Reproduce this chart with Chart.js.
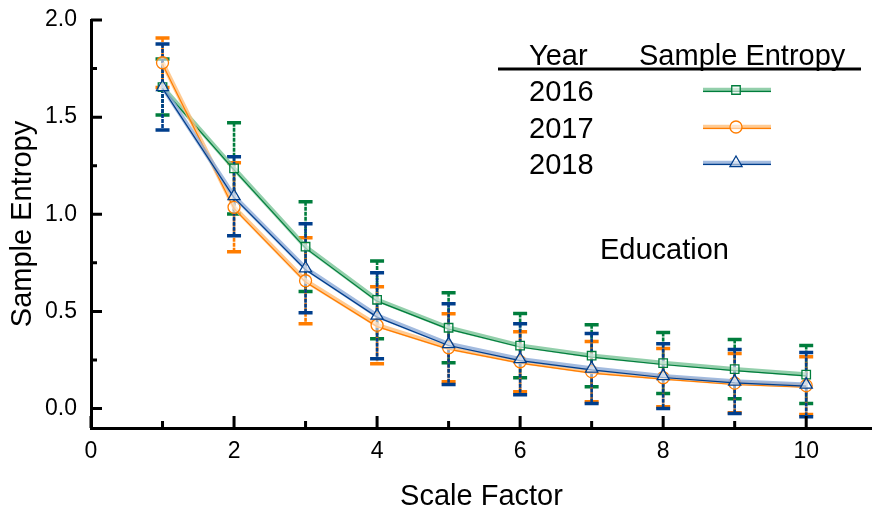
<!DOCTYPE html>
<html>
<head>
<meta charset="utf-8">
<script src="https://cdn.jsdelivr.net/npm/chart.js@4/dist/chart.umd.min.js"></script>
<style>
  html, body { margin: 0; padding: 0; background: #fff; overflow: hidden; }
  canvas { display: block; }
</style>
</head>
<body>
<canvas id="chart" width="872" height="514"></canvas>
<script>
// Multiscale sample entropy by year, with error bars (mean ± deviation)
const scaleFactor = [1, 2, 3, 4, 5, 6, 7, 8, 9, 10];
const years = ['2016', '2017', '2018'];

const entropy2016 = [1.655, 1.236, 0.833, 0.560, 0.416, 0.324, 0.272, 0.234, 0.203, 0.175];
const error2016   = [0.144, 0.235, 0.231, 0.200, 0.180, 0.165, 0.160, 0.157, 0.152, 0.149];
const entropy2017 = [1.780, 1.036, 0.658, 0.429, 0.313, 0.241, 0.190, 0.159, 0.131, 0.118];
const error2017   = [0.127, 0.229, 0.221, 0.198, 0.175, 0.155, 0.155, 0.150, 0.152, 0.149];
const entropy2018 = [1.655, 1.093, 0.722, 0.478, 0.332, 0.254, 0.206, 0.167, 0.139, 0.123];
const error2018   = [0.221, 0.203, 0.229, 0.221, 0.208, 0.183, 0.180, 0.167, 0.165, 0.165];

const xTickValues = [0, 2, 4, 6, 8, 10];
const yTickValues = [0.0, 0.5, 1.0, 1.5, 2.0];
const xMinorValues = [1, 3, 5, 7, 9];
const yMinorValues = [0.25, 0.75, 1.25, 1.75];

const panelLabel = 'Education';
const legendHeaders = ['Year', 'Sample Entropy'];

const FONT = '"Liberation Sans", Arial, sans-serif';

const series = [
  { year: years[0], mean: entropy2016, err: error2016, dark: 'rgb(0,125,60)',  light: 'rgba(120,195,150,0.8)', marker: 'rect' },
  { year: years[1], mean: entropy2017, err: error2017, dark: 'rgb(255,125,0)', light: 'rgba(255,190,120,0.8)', marker: 'circle' },
  { year: years[2], mean: entropy2018, err: error2018, dark: 'rgb(0,62,140)',  light: 'rgba(140,170,215,0.8)', marker: 'triangle' }
];

const MARKER_FILL = 'rgba(255,255,255,0.55)';
const toXY = arr => arr.map((v, i) => ({ x: scaleFactor[i], y: v }));

// Each series is built from a wide pale line, a thin dark line beside it and hollow markers
const datasets = [];
series.forEach((s, k) => {
  datasets.push({
    label: s.year + ' band', data: toXY(s.mean), borderColor: s.light, borderWidth: 4.5,
    pointRadius: 0, tension: 0, fill: false, order: 30 - k * 3
  });
  datasets.push({
    label: s.year + ' line', data: toXY(s.mean), borderColor: s.dark, borderWidth: 1.2,
    pointRadius: 0, tension: 0, fill: false, order: 29 - k * 3, shiftLine: true
  });
  datasets.push({
    label: s.year, data: toXY(s.mean), showLine: false, pointStyle: s.marker,
    pointRadius: s.marker === 'triangle' ? 7 : 6, pointBorderWidth: 1.3,
    pointBorderColor: s.dark, pointBackgroundColor: MARKER_FILL,
    order: 28 - k * 3
  });
});

// Nudge the thin line a little below the pale band
const shiftPlugin = {
  id: 'shiftLine',
  beforeDatasetDraw(chart, args) {
    if (args.meta._dataset.shiftLine) { chart.ctx.save(); chart.ctx.translate(0, 1.4); }
  },
  afterDatasetDraw(chart, args) {
    if (args.meta._dataset.shiftLine) chart.ctx.restore();
  }
};

// Vertical error bars with flat caps
const errorBarPlugin = {
  id: 'errorBars',
  beforeDatasetsDraw(chart) {
    const { ctx, scales: { x, y } } = chart;
    ctx.save();
    series.forEach(s => {
      s.mean.forEach((m, i) => {
        const px = x.getPixelForValue(scaleFactor[i]);
        const yt = y.getPixelForValue(m + s.err[i]);
        const yb = y.getPixelForValue(m - s.err[i]);
        ctx.strokeStyle = s.dark;
        ctx.lineWidth = 2.6;
        ctx.setLineDash([4, 1]);
        ctx.beginPath(); ctx.moveTo(px, yt); ctx.lineTo(px, yb); ctx.stroke();
        ctx.setLineDash([]);
        ctx.lineWidth = 3.5;
        ctx.beginPath();
        ctx.moveTo(px - 7, yt); ctx.lineTo(px + 7, yt);
        ctx.moveTo(px - 7, yb); ctx.lineTo(px + 7, yb);
        ctx.stroke();
      });
    });
    ctx.restore();
  }
};

// Inward tick marks, panel label and the table-style legend
const decorPlugin = {
  id: 'decor',
  afterDraw(chart) {
    const { ctx, chartArea: a, scales: { x, y } } = chart;
    ctx.save();
    ctx.strokeStyle = '#000';
    ctx.lineWidth = 3;
    ctx.beginPath();
    yTickValues.forEach(v => { const py = y.getPixelForValue(v); ctx.moveTo(a.left, py); ctx.lineTo(a.left + 11, py); });
    yMinorValues.forEach(v => { const py = y.getPixelForValue(v); ctx.moveTo(a.left, py); ctx.lineTo(a.left + 6, py); });
    xTickValues.forEach(v => { const px = x.getPixelForValue(v); ctx.moveTo(px, a.bottom); ctx.lineTo(px, a.bottom - 12); });
    xMinorValues.forEach(v => { const px = x.getPixelForValue(v); ctx.moveTo(px, a.bottom); ctx.lineTo(px, a.bottom - 7); });
    ctx.stroke();

    ctx.fillStyle = '#000';
    ctx.font = '29px ' + FONT;
    ctx.textBaseline = 'alphabetic';
    ctx.textAlign = 'left';
    ctx.fillText(panelLabel, 600, 259);

    // legend header
    ctx.fillText(legendHeaders[0], 529, 65);
    ctx.fillText(legendHeaders[1], 639, 65);
    ctx.lineWidth = 3;
    ctx.beginPath(); ctx.moveTo(498, 69); ctx.lineTo(861, 69); ctx.stroke();

    const rowsY = [90, 127, 163];
    series.forEach((s, k) => {
      const ry = rowsY[k];
      ctx.fillStyle = '#000';
      ctx.fillText(s.year, 529, ry + 11);
      ctx.strokeStyle = s.light; ctx.lineWidth = 4.5;
      ctx.beginPath(); ctx.moveTo(703, ry); ctx.lineTo(771, ry); ctx.stroke();
      ctx.strokeStyle = s.dark; ctx.lineWidth = 1.2;
      ctx.beginPath(); ctx.moveTo(703, ry + 1.4); ctx.lineTo(771, ry + 1.4); ctx.stroke();
      ctx.fillStyle = MARKER_FILL;
      ctx.strokeStyle = s.dark;
      ctx.lineWidth = 1.3;
      Chart.helpers.drawPoint(ctx, {
        pointStyle: s.marker, radius: s.marker === 'triangle' ? 7 : 6, rotation: 0, borderWidth: 1.3
      }, 736, ry);
    });
    ctx.restore();
  }
};

// Keep the plot frame fixed: no extra room reserved for overhanging tick labels
const noLabelPadding = s => { s.paddingTop = 0; s.paddingBottom = 0; s.paddingLeft = 0; s.paddingRight = 0; };

new Chart(document.getElementById('chart'), {
  type: 'line',
  data: { datasets },
  plugins: [shiftPlugin, errorBarPlugin, decorPlugin],
  options: {
    responsive: false,
    animation: false,
    events: [],
    layout: { autoPadding: false, padding: { top: 20, right: 0, left: 0, bottom: 0 } },
    plugins: { legend: { display: false }, tooltip: { enabled: false } },
    scales: {
      x: {
        type: 'linear', min: 0, max: 10.92,
        afterBuildTicks: s => { s.ticks = xTickValues.map(v => ({ value: v })); },
        afterFit: s => { s.height = 86; noLabelPadding(s); },
        grid: { display: false, drawTicks: false },
        border: { display: true, color: '#000', width: 3 },
        ticks: { color: '#000', font: { family: FONT, size: 23 }, padding: 10, maxRotation: 0, autoSkip: false },
        title: { display: true, text: 'Scale Factor', color: '#000', font: { family: FONT, size: 29 }, padding: { top: 12, bottom: 0 } }
      },
      y: {
        type: 'linear', min: -0.1, max: 2.0,
        afterBuildTicks: s => { s.ticks = yTickValues.map(v => ({ value: v })); },
        afterFit: s => { s.width = 91; noLabelPadding(s); },
        grid: { display: false, drawTicks: false },
        border: { display: true, color: '#000', width: 3 },
        ticks: { color: '#000', font: { family: FONT, size: 23 }, padding: 14, callback: v => v.toFixed(1) },
        title: { display: true, text: 'Sample Entropy', color: '#000', font: { family: FONT, size: 29 }, padding: { top: 6, bottom: 0 } }
      }
    }
  }
});
</script>
</body>
</html>
